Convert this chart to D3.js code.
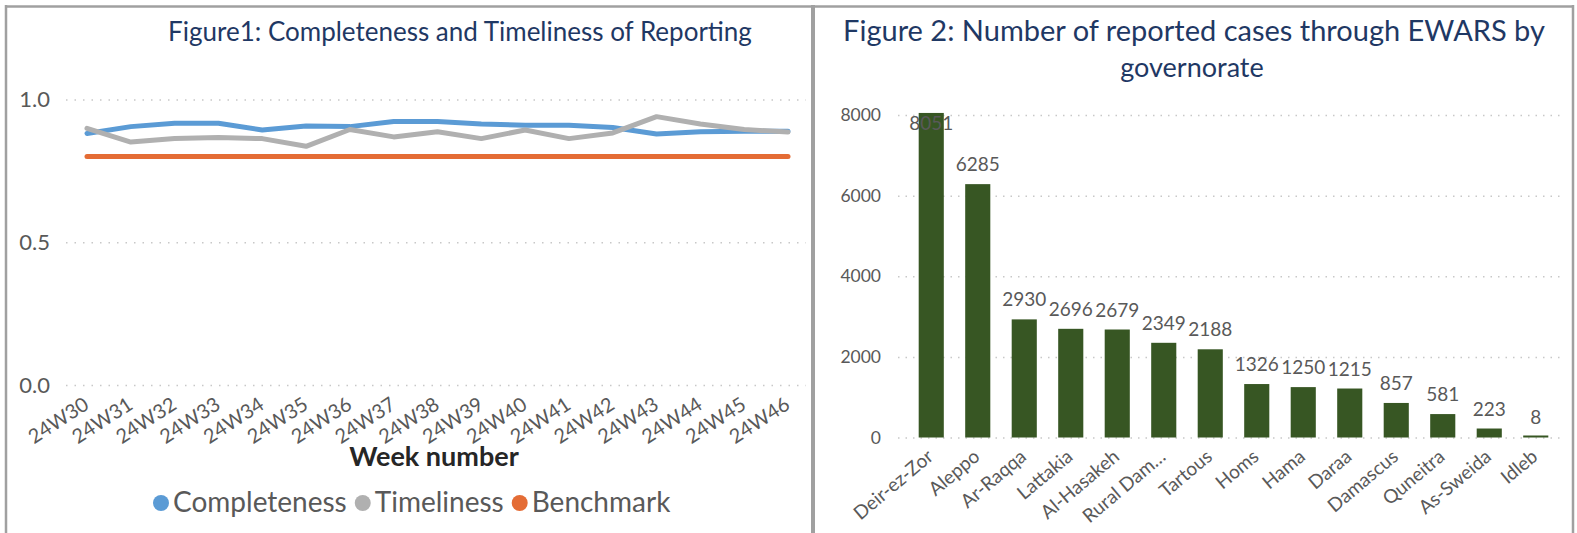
<!DOCTYPE html>
<html>
<head>
<meta charset="utf-8">
<script src="https://cdn.jsdelivr.net/npm/d3@7"></script>
<style>
  body { margin: 0; background: #fff; }
  svg { display: block; font-family: Lato, "Open Sans", sans-serif; }
</style>
</head>
<body>
<div id="chart"></div>
<script>
// Figure 1 data
var weeks = ['24W30', '24W31', '24W32', '24W33', '24W34', '24W35', '24W36', '24W37', '24W38',
             '24W39', '24W40', '24W41', '24W42', '24W43', '24W44', '24W45', '24W46']
var completeness = [0.881, 0.905, 0.917, 0.917, 0.893, 0.907, 0.905, 0.923, 0.923,
                    0.914, 0.910, 0.910, 0.902, 0.879, 0.887, 0.889, 0.889]
var timeliness = [0.899, 0.851, 0.863, 0.867, 0.863, 0.836, 0.895, 0.869, 0.887,
                  0.863, 0.893, 0.863, 0.883, 0.940, 0.914, 0.895, 0.886]
var benchmark = [0.8, 0.8, 0.8, 0.8, 0.8, 0.8, 0.8, 0.8, 0.8,
                 0.8, 0.8, 0.8, 0.8, 0.8, 0.8, 0.8, 0.8]
var fig1Ticks = [0, 0.5, 1.0]

// Figure 2 data
var governorates = ['Deir-ez-Zor', 'Aleppo', 'Ar-Raqqa', 'Lattakia', 'Al-Hasakeh', 'Rural Dam\u2026',
                    'Tartous', 'Homs', 'Hama', 'Daraa', 'Damascus', 'Quneitra', 'As-Sweida', 'Idleb']
var cases = [8051, 6285, 2930, 2696, 2679, 2349, 2188, 1326, 1250, 1215, 857, 581, 223, 8]
var fig2Ticks = [0, 2000, 4000, 6000, 8000]

var width = 1577
var height = 533
var labelGray = '#595959'
var titleBlue = '#1F3864'
var borderGray = '#A0A0A0'

var svg = d3.select('#chart').append('svg')
    .attr('width', width)
    .attr('height', height)

// panel borders
var borders = [
    [5, 6.5, 1574, 6.5, 2.5],
    [6, 5, 6, height, 2.5],
    [813, 5, 813, height, 4],
    [1573, 5, 1573, height, 2.5]
]
svg.selectAll('line.border')
    .data(borders)
    .enter()
    .append('line')
    .attr('class', 'border')
    .attr('x1', d => d[0]).attr('y1', d => d[1])
    .attr('x2', d => d[2]).attr('y2', d => d[3])
    .attr('stroke', borderGray)
    .attr('stroke-width', d => d[4])

// ---------- Figure 1 ----------
var g1 = svg.append('g')

g1.append('text')
    .attr('x', 460)
    .attr('y', 41)
    .attr('text-anchor', 'middle')
    .attr('font-size', 26)
    .attr('fill', titleBlue)
    .text('Figure1: Completeness and Timeliness of Reporting')

var x1 = d3.scalePoint().domain(weeks).range([87, 788])
var y1 = d3.scaleLinear().domain([0, 1]).range([385, 99.5])

var yAxis1 = g1.append('g')
    .attr('transform', 'translate(66,0)')
    .call(d3.axisLeft(y1)
        .tickValues(fig1Ticks)
        .tickFormat(d3.format('.1f'))
        .tickSize(-740)
        .tickPadding(16))
yAxis1.select('.domain').remove()
yAxis1.selectAll('.tick line')
    .attr('stroke', '#C8C8C8')
    .attr('stroke-width', 1.5)
    .attr('stroke-dasharray', '1.5,7')
yAxis1.selectAll('.tick text')
    .attr('font-size', 22)
    .attr('font-family', 'Lato, sans-serif')
    .attr('fill', labelGray)

var xAxis1 = g1.append('g')
    .attr('transform', 'translate(0,385)')
    .call(d3.axisBottom(x1).tickSize(0))
xAxis1.select('.domain').remove()
xAxis1.selectAll('.tick text')
    .attr('x', 0).attr('y', 0).attr('dy', '0.35em')
    .attr('transform', 'translate(-1,17) rotate(-33)')
    .attr('text-anchor', 'end')
    .attr('font-size', 20)
    .attr('font-family', 'Lato, sans-serif')
    .attr('fill', labelGray)

g1.append('text')
    .attr('x', 434)
    .attr('y', 466)
    .attr('text-anchor', 'middle')
    .attr('font-size', 27)
    .attr('font-weight', 'bold')
    .attr('fill', '#262626')
    .text('Week number')

var series1 = [
    { name: 'Completeness', values: completeness, color: '#5B9BD5' },
    { name: 'Timeliness', values: timeliness, color: '#B0B0B0' },
    { name: 'Benchmark', values: benchmark, color: '#E46C35' }
]

var line1 = d3.line()
    .x((d, i) => x1(weeks[i]))
    .y(d => y1(d))

// draw benchmark first, then timeliness over completeness like the original
g1.selectAll('path.series')
    .data([series1[2], series1[0], series1[1]])
    .enter()
    .append('path')
    .attr('class', 'series')
    .attr('d', d => line1(d.values))
    .attr('fill', 'none')
    .attr('stroke', d => d.color)
    .attr('stroke-width', 5)
    .attr('stroke-linejoin', 'round')
    .attr('stroke-linecap', 'round')

// legend
var legend = g1.append('g')
var lx = 161
series1.forEach(function (s) {
    legend.append('circle')
        .attr('cx', lx)
        .attr('cy', 503)
        .attr('r', 8)
        .attr('fill', s.color)
    var t = legend.append('text')
        .attr('x', lx + 12)
        .attr('y', 512)
        .attr('font-size', 28)
        .attr('fill', labelGray)
        .text(s.name)
    lx = lx + 12 + t.node().getComputedTextLength() + 16
})

// ---------- Figure 2 ----------
var g2 = svg.append('g')

g2.append('text')
    .attr('x', 1194)
    .attr('y', 41)
    .attr('text-anchor', 'middle')
    .attr('font-size', 29)
    .attr('fill', titleBlue)
    .text('Figure 2: Number of reported cases through EWARS by')
g2.append('text')
    .attr('x', 1192)
    .attr('y', 77)
    .attr('text-anchor', 'middle')
    .attr('font-size', 27)
    .attr('fill', titleBlue)
    .text('governorate')

var x2 = d3.scaleBand().domain(governorates).range([908, 1559]).paddingInner(0.46).paddingOuter(0.23)
var y2 = d3.scaleLinear().domain([0, 8000]).range([437.5, 115])

var yAxis2 = g2.append('g')
    .attr('transform', 'translate(898,0)')
    .call(d3.axisLeft(y2)
        .tickValues(fig2Ticks)
        .tickFormat(d3.format('d'))
        .tickSize(-662)
        .tickPadding(17))
yAxis2.select('.domain').remove()
yAxis2.selectAll('.tick line')
    .attr('stroke', '#C8C8C8')
    .attr('stroke-width', 1.5)
    .attr('stroke-dasharray', '1.5,6')
yAxis2.selectAll('.tick text')
    .attr('font-size', 17.5)
    .attr('font-family', 'Lato, sans-serif')
    .attr('fill', labelGray)

g2.selectAll('rect.bar')
    .data(cases)
    .enter()
    .append('rect')
    .attr('class', 'bar')
    .attr('x', (d, i) => x2(governorates[i]))
    .attr('width', x2.bandwidth())
    .attr('y', d => Math.min(y2(d), y2(0) - 2))
    .attr('height', d => Math.max(y2(0) - y2(d), 2))
    .attr('fill', '#375623')

g2.selectAll('text.value')
    .data(cases)
    .enter()
    .append('text')
    .attr('class', 'value')
    .attr('x', (d, i) => x2(governorates[i]) + x2.bandwidth() / 2)
    .attr('y', d => Math.max(y2(d) - 13, 130))
    .attr('text-anchor', 'middle')
    .attr('font-size', 19)
    .attr('fill', labelGray)
    .text(d => d)

var xAxis2 = g2.append('g')
    .attr('transform', 'translate(0,437.5)')
    .call(d3.axisBottom(x2).tickSize(0))
xAxis2.select('.domain').remove()
xAxis2.selectAll('.tick text')
    .attr('x', 0).attr('y', 0).attr('dy', '0.35em')
    .attr('transform', 'translate(-1,16) rotate(-40)')
    .attr('text-anchor', 'end')
    .attr('font-size', 19)
    .attr('font-family', 'Lato, sans-serif')
    .attr('fill', labelGray)
</script>
</body>
</html>
